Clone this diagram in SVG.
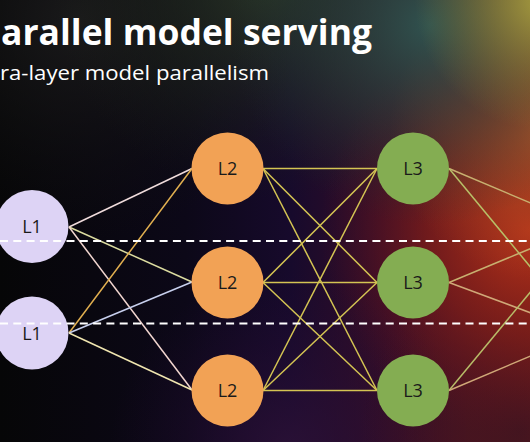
<svg xmlns="http://www.w3.org/2000/svg" width="530" height="442" viewBox="0 0 530 442">
  <defs>
    <linearGradient id="bgBase" x1="0" y1="0" x2="1" y2="0">
      <stop offset="0" stop-color="#060607"/>
      <stop offset="0.35" stop-color="#0c0818"/>
      <stop offset="0.55" stop-color="#170a2c"/>
      <stop offset="0.75" stop-color="#3a0e26"/>
      <stop offset="1" stop-color="#6a1a1a"/>
    </linearGradient>
    <radialGradient id="gRed" cx="530" cy="230" r="210" gradientUnits="userSpaceOnUse">
      <stop offset="0" stop-color="#b8341a" stop-opacity="1"/>
      <stop offset="0.5" stop-color="#8a2018" stop-opacity="0.6"/>
      <stop offset="1" stop-color="#5a1020" stop-opacity="0"/>
    </radialGradient>
    <radialGradient id="gOrange" cx="540" cy="130" r="150" gradientUnits="userSpaceOnUse">
      <stop offset="0" stop-color="#b85a28" stop-opacity="0.9"/>
      <stop offset="1" stop-color="#a04020" stop-opacity="0"/>
    </radialGradient>
    <radialGradient id="gTeal" cx="430" cy="25" r="200" gradientUnits="userSpaceOnUse">
      <stop offset="0" stop-color="#2f5652" stop-opacity="0.95"/>
      <stop offset="0.55" stop-color="#28443e" stop-opacity="0.45"/>
      <stop offset="1" stop-color="#203030" stop-opacity="0"/>
    </radialGradient>
    <radialGradient id="gYellow" cx="545" cy="0" r="130" gradientUnits="userSpaceOnUse">
      <stop offset="0" stop-color="#a8a040" stop-opacity="1"/>
      <stop offset="1" stop-color="#8a8035" stop-opacity="0"/>
    </radialGradient>
    <radialGradient id="gOlive" cx="270" cy="-20" r="220" gradientUnits="userSpaceOnUse">
      <stop offset="0" stop-color="#2c3c26" stop-opacity="0.85"/>
      <stop offset="1" stop-color="#1a2018" stop-opacity="0"/>
    </radialGradient>
    <radialGradient id="gGray" cx="80" cy="20" r="220" gradientUnits="userSpaceOnUse">
      <stop offset="0" stop-color="#1c1c1c" stop-opacity="0.9"/>
      <stop offset="1" stop-color="#101010" stop-opacity="0"/>
    </radialGradient>
    <radialGradient id="gPurple" cx="290" cy="450" r="180" gradientUnits="userSpaceOnUse">
      <stop offset="0" stop-color="#2e1238" stop-opacity="0.8"/>
      <stop offset="1" stop-color="#200a30" stop-opacity="0"/>
    </radialGradient>
    <radialGradient id="gMaroon" cx="520" cy="430" r="160" gradientUnits="userSpaceOnUse">
      <stop offset="0" stop-color="#3e1420" stop-opacity="0.9"/>
      <stop offset="1" stop-color="#3e1420" stop-opacity="0"/>
    </radialGradient>
    <style>
      .title { font-family: "Open Sans", "Liberation Sans", sans-serif; font-weight: 700; fill: #ffffff; }
      .sub { font-family: "Open Sans", "Liberation Sans", sans-serif; font-weight: 400; fill: #ffffff; }
      .lbl { font-family: "Open Sans", "Liberation Sans", sans-serif; font-size: 18px; fill: #1a1a1a; text-anchor: middle; }
      .n1 { fill: #ddd3f5; }
      .n2 { fill: #f2a255; }
      .n3 { fill: #84ad52; }
      .c { fill: none; stroke-width: 1.5; }
      .c23 { stroke: #d4c453; }
      .dash { stroke: #ffffff; stroke-width: 2; stroke-dasharray: 8 5.3; fill: none; }
    </style>
  </defs>

  <g id="background">
    <rect x="0" y="0" width="530" height="442" fill="url(#bgBase)"/>
    <rect x="0" y="0" width="530" height="442" fill="url(#gGray)"/>
    <rect x="0" y="0" width="530" height="442" fill="url(#gOlive)"/>
    <rect x="0" y="0" width="530" height="442" fill="url(#gPurple)"/>
    <rect x="0" y="0" width="530" height="442" fill="url(#gMaroon)"/>
    <rect x="0" y="0" width="530" height="442" fill="url(#gRed)"/>
    <rect x="0" y="0" width="530" height="442" fill="url(#gOrange)"/>
    <rect x="0" y="0" width="530" height="442" fill="url(#gTeal)"/>
    <rect x="0" y="0" width="530" height="442" fill="url(#gYellow)"/>
  </g>

  <g id="title-text">
    <text class="title" x="1" y="45" font-size="36" textLength="371" lengthAdjust="spacingAndGlyphs">arallel model serving</text>
    <text class="sub" x="0" y="80" font-size="20" textLength="269" lengthAdjust="spacingAndGlyphs">ra-layer model parallelism</text>
  </g>

  <g id="connectors">
    <line class="c" x1="69" y1="227" x2="192" y2="168.5" stroke="#f0dcdc"/>
    <line class="c" x1="69" y1="227" x2="192" y2="282" stroke="#dcdca0"/>
    <line class="c" x1="69" y1="227" x2="192" y2="390" stroke="#f2d6d0"/>
    <line class="c" x1="69" y1="333" x2="192" y2="168.5" stroke="#e2b050"/>
    <line class="c" x1="69" y1="333" x2="192" y2="282" stroke="#c8d0ee"/>
    <line class="c" x1="69" y1="333" x2="192" y2="390" stroke="#f0e6b0"/>
    <line class="c c23" x1="263" y1="168.5" x2="377" y2="168.5"/>
    <line class="c c23" x1="263" y1="168.5" x2="377" y2="282.5"/>
    <line class="c c23" x1="263" y1="168.5" x2="377" y2="390.5"/>
    <line class="c c23" x1="263" y1="282.5" x2="377" y2="168.5"/>
    <line class="c c23" x1="263" y1="282.5" x2="377" y2="282.5"/>
    <line class="c c23" x1="263" y1="282.5" x2="377" y2="390.5"/>
    <line class="c c23" x1="263" y1="390.5" x2="377" y2="168.5"/>
    <line class="c c23" x1="263" y1="390.5" x2="377" y2="282.5"/>
    <line class="c c23" x1="263" y1="390.5" x2="377" y2="390.5"/>
    <line class="c" x1="449" y1="168.5" x2="585" y2="226" stroke="#c8b070"/>
    <line class="c" x1="449" y1="168.5" x2="585" y2="333" stroke="#b8c068"/>
    <line class="c" x1="449" y1="282.5" x2="585" y2="226" stroke="#c8b070"/>
    <line class="c" x1="449" y1="282.5" x2="585" y2="333" stroke="#d0a878"/>
    <line class="c" x1="449" y1="390.5" x2="585" y2="226" stroke="#b8bc68"/>
    <line class="c" x1="449" y1="390.5" x2="585" y2="333" stroke="#d0a878"/>
  </g>

  <g id="node-L1-a"><circle class="n1" cx="32" cy="226.5" r="36.5"/><text class="lbl" x="32" y="233">L1</text></g>
  <g id="node-L1-b"><circle class="n1" cx="32" cy="333" r="36.5"/><text class="lbl" x="32" y="339.5">L1</text></g>
  <g id="node-L2-a"><circle class="n2" cx="227.5" cy="168.5" r="36"/><text class="lbl" x="227.5" y="175">L2</text></g>
  <g id="node-L2-b"><circle class="n2" cx="227.5" cy="282.5" r="36"/><text class="lbl" x="227.5" y="289">L2</text></g>
  <g id="node-L2-c"><circle class="n2" cx="227.5" cy="390.5" r="36"/><text class="lbl" x="227.5" y="397">L2</text></g>
  <g id="node-L3-a"><circle class="n3" cx="413" cy="168.5" r="36"/><text class="lbl" x="413" y="175">L3</text></g>
  <g id="node-L3-b"><circle class="n3" cx="413" cy="282.5" r="36"/><text class="lbl" x="413" y="289">L3</text></g>
  <g id="node-L3-c"><circle class="n3" cx="413" cy="390.5" r="36"/><text class="lbl" x="413" y="397">L3</text></g>

  <g id="partition-lines">
    <line class="dash" x1="0" y1="241" x2="530" y2="241"/>
    <line class="dash" x1="0" y1="323.5" x2="530" y2="323.5"/>
  </g>
</svg>
